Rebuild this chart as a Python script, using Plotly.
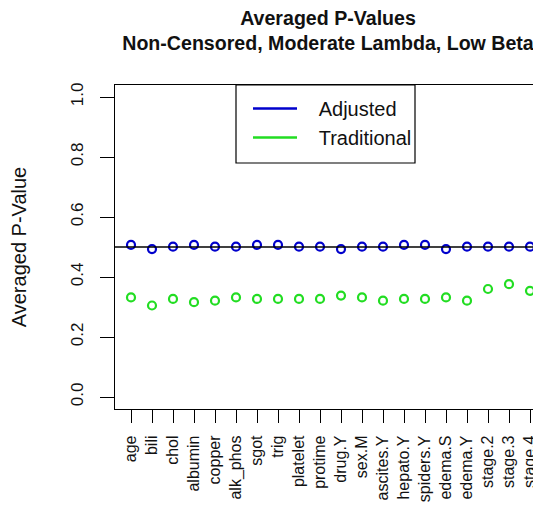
import plotly.graph_objects as go

categories = ["age", "bili", "chol", "albumin", "copper", "alk_phos", "sgot", "trig",
              "platelet", "protime", "drug.Y", "sex.M", "ascites.Y", "hepato.Y",
              "spiders.Y", "edema.S", "edema.Y", "stage.2", "stage.3", "stage.4"]
adjusted = [0.507, 0.493, 0.501, 0.507, 0.501, 0.501, 0.507, 0.507, 0.501, 0.501,
            0.493, 0.501, 0.501, 0.507, 0.507, 0.493, 0.501, 0.501, 0.501, 0.501]
traditional = [0.332, 0.305, 0.327, 0.316, 0.321, 0.332, 0.327, 0.327, 0.327, 0.327,
               0.338, 0.332, 0.321, 0.327, 0.327, 0.332, 0.321, 0.360, 0.376, 0.354]
y_ticks = [0.0, 0.2, 0.4, 0.6, 0.8, 1.0]
reference_line = 0.5

BLUE = "#0000cc"
GREEN = "#22dd22"
FONT = "Liberation Sans"
NB = "\u00a0\u00a0\u00a0"

xs = list(range(1, len(categories) + 1))

fig = go.Figure()
fig.add_trace(go.Scatter(x=xs, y=adjusted, mode="markers", showlegend=False,
                         marker=dict(symbol="circle-open", size=8, color=BLUE,
                                     line=dict(width=2.2, color=BLUE))))
fig.add_trace(go.Scatter(x=xs, y=traditional, mode="markers", showlegend=False,
                         marker=dict(symbol="circle-open", size=8, color=GREEN,
                                     line=dict(width=2.2, color=GREEN))))
fig.add_trace(go.Scatter(x=[None], y=[None], mode="lines", name=NB + "Adjusted",
                         line=dict(color=BLUE, width=2.5)))
fig.add_trace(go.Scatter(x=[None], y=[None], mode="lines", name=NB + "Traditional",
                         line=dict(color=GREEN, width=2.5)))

fig.add_shape(type="line", xref="paper", x0=0, x1=1, yref="y",
              y0=reference_line, y1=reference_line, line=dict(color="black", width=1.5))

# the page body has an 8px margin, so the figure is offset by 8px
OFF = 8
W, H = 541 - OFF, 514 - OFF
L, R, T = 115 - OFF, 0, 85 - OFF
B = H - (409 - OFF)
pw = W - L - R
ph = H - T - B

def px_x(p):
    return (p - OFF - L) / pw

def px_y(p):
    return 1 - (p - OFF - T) / ph

# legend box
fig.add_shape(type="rect", xref="paper", yref="paper",
              x0=px_x(236), x1=px_x(415), y0=px_y(163), y1=px_y(85),
              line=dict(color="black", width=1.2), fillcolor="rgba(0,0,0,0)")

fig.update_layout(
    width=W, height=H,
    margin=dict(l=L, r=R, t=T, b=B, autoexpand=False),
    paper_bgcolor="white", plot_bgcolor="white",
    font=dict(family=FONT, color="black", size=16),
    title=dict(text="<b>Averaged P-Values</b><br><b>Non-Censored, Moderate Lambda, Low Beta</b>",
               x=(328 - OFF) / W, xanchor="center", xref="container",
               y=1 - 17 / H, yanchor="top", yref="container",
               font=dict(family=FONT, size=19.6, color="#111111")),
    legend=dict(x=px_x(248), y=px_y(89), xanchor="left", yanchor="top",
                bgcolor="rgba(0,0,0,0)", borderwidth=0,
                font=dict(family=FONT, size=20, color="#111111"),
                itemwidth=44, tracegroupgap=0),
    showlegend=True,
)

fig.update_xaxes(
    range=[0.238, 0.238 + pw / 21.0], automargin=False,
    tickmode="array", tickvals=xs, ticktext=categories, tickangle=-90,
    ticks="outside", ticklen=13, tickwidth=1.2, tickcolor="black",
    ticklabelstandoff=6,
    showline=True, linecolor="black", linewidth=1.2, mirror=True,
    showgrid=False, zeroline=False,
    tickfont=dict(family=FONT, size=16, color="#111111"),
)
fig.update_yaxes(
    range=[-0.04, 1.04], automargin=False,
    tickmode="array", tickvals=y_ticks, ticktext=[f"{v:.1f}" for v in y_ticks],
    tickangle=-90,
    ticks="outside", ticklen=14, tickwidth=1.2, tickcolor="black",
    ticklabelstandoff=10,
    showline=True, linecolor="black", linewidth=1.2, mirror=False,
    showgrid=False, zeroline=False,
    tickfont=dict(family=FONT, size=17, color="#111111"),
    title=dict(text="Averaged P-Value", standoff=40,
               font=dict(family=FONT, size=20, color="#111111")),
)

fig.write_html("out.html")
